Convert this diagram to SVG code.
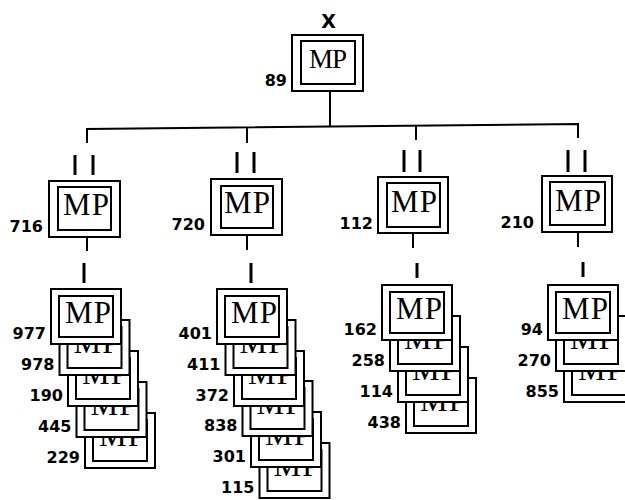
<svg xmlns="http://www.w3.org/2000/svg" width="625" height="500" viewBox="0 0 625 500">
<style>
.o{fill:#fff;stroke:#000;stroke-width:2}
.i{fill:none;stroke:#000;stroke-width:2}
.mp{font-family:"Liberation Serif",serif;font-size:31px;text-anchor:middle;fill:#000}
.lb{font-family:"DejaVu Sans",sans-serif;font-weight:bold;font-size:16px;text-anchor:end;fill:#000}
.c{stroke:#000;stroke-width:2;fill:none}
.t{stroke:#000;stroke-width:3;fill:none}
</style>
<rect width="625" height="500" fill="#fff"/>
<g id="connectors">
<line class="c" x1="330" y1="91" x2="330" y2="127"/>
<polyline class="c" points="87,143 87,129 578,124 578,138"/>
<line class="c" x1="247" y1="127" x2="247" y2="143"/>
<line class="c" x1="416" y1="126" x2="416" y2="140"/>
<line class="t" x1="75" y1="155" x2="75" y2="175"/>
<line class="t" x1="93" y1="155" x2="93" y2="175"/>
<line class="t" x1="237" y1="152" x2="237" y2="173"/>
<line class="t" x1="254" y1="152" x2="254" y2="173"/>
<line class="t" x1="404" y1="150" x2="404" y2="172"/>
<line class="t" x1="420" y1="150" x2="420" y2="172"/>
<line class="t" x1="568" y1="150" x2="568" y2="172"/>
<line class="t" x1="585" y1="150" x2="585" y2="172"/>
<line class="c" x1="87" y1="237" x2="87" y2="251"/>
<line class="t" x1="84" y1="263" x2="84" y2="283"/>
<line class="c" x1="247" y1="235" x2="247" y2="250"/>
<line class="t" x1="251" y1="263" x2="251" y2="283"/>
<line class="c" x1="413" y1="233" x2="413" y2="248"/>
<line class="t" x1="417" y1="263" x2="417" y2="278"/>
<line class="c" x1="578" y1="232" x2="578" y2="247"/>
<line class="t" x1="583" y1="262" x2="583" y2="277"/>
</g>
<g id="top">
<text x="328.5" y="28" style="font-family:'DejaVu Sans',sans-serif;font-weight:bold;font-size:19px;text-anchor:middle">X</text>
<rect class="o" x="292" y="35" width="71" height="56"/>
<rect class="i" x="301" y="41" width="54" height="43"/>
<text class="mp" x="328" y="68" style="font-size:27px" textLength="38">MP</text>
<text class="lb" x="287" y="86">89</text>
</g>
<g id="n716">
<rect class="o" x="49" y="181" width="71" height="56"/>
<rect class="i" x="58" y="187" width="53" height="43"/>
<text class="mp" x="86" y="215" textLength="46">MP</text>
<text class="lb" x="43" y="232">716</text>
</g>
<g id="n720">
<rect class="o" x="211" y="179" width="71" height="56"/>
<rect class="i" x="221" y="186" width="52" height="42"/>
<text class="mp" x="247" y="213" textLength="46">MP</text>
<text class="lb" x="205" y="230">720</text>
</g>
<g id="n112">
<rect class="o" x="378" y="177" width="70" height="56"/>
<rect class="i" x="387" y="183" width="53" height="44"/>
<text class="mp" x="414" y="212" textLength="46">MP</text>
<text class="lb" x="373" y="229">112</text>
</g>
<g id="n210">
<rect class="o" x="542" y="176" width="70" height="56"/>
<rect class="i" x="550" y="182" width="55" height="43"/>
<text class="mp" x="578" y="211" textLength="46">MP</text>
<text class="lb" x="534" y="228">210</text>
</g>
<g id="stack1">
<g id="n229" transform="translate(85,413)"><rect class="o" width="70" height="55"/><rect class="i" x="8" y="7" width="54" height="41"/><text class="mp" x="37" y="33" textLength="46">MP</text><text class="lb" x="-5" y="50">229</text></g>
<g id="n445" transform="translate(76.5,382)"><rect class="o" width="70" height="55"/><rect class="i" x="8" y="7" width="54" height="41"/><text class="mp" x="37" y="33" textLength="46">MP</text><text class="lb" x="-5" y="50">445</text></g>
<g id="n190" transform="translate(68,351)"><rect class="o" width="70" height="55"/><rect class="i" x="8" y="7" width="54" height="41"/><text class="mp" x="37" y="33" textLength="46">MP</text><text class="lb" x="-5" y="50">190</text></g>
<g id="n978" transform="translate(59.5,320)"><rect class="o" width="70" height="55"/><rect class="i" x="8" y="7" width="54" height="41"/><text class="mp" x="37" y="33" textLength="46">MP</text><text class="lb" x="-5" y="50">978</text></g>
<g id="n977" transform="translate(51,289)"><rect class="o" width="70" height="55"/><rect class="i" x="8" y="7" width="54" height="41"/><text class="mp" x="37" y="34" textLength="46">MP</text><text class="lb" x="-5" y="50">977</text></g>
</g>
<g id="stack2">
<g id="n115" transform="translate(259.5,443)"><rect class="o" width="70" height="55"/><rect class="i" x="8" y="7" width="54" height="41"/><text class="mp" x="37" y="33" textLength="46">MP</text><text class="lb" x="-5" y="50">115</text></g>
<g id="n301" transform="translate(251,412)"><rect class="o" width="70" height="55"/><rect class="i" x="8" y="7" width="54" height="41"/><text class="mp" x="37" y="33" textLength="46">MP</text><text class="lb" x="-5" y="50">301</text></g>
<g id="n838" transform="translate(242.5,381)"><rect class="o" width="70" height="55"/><rect class="i" x="8" y="7" width="54" height="41"/><text class="mp" x="37" y="33" textLength="46">MP</text><text class="lb" x="-5" y="50">838</text></g>
<g id="n372" transform="translate(234,351)"><rect class="o" width="70" height="55"/><rect class="i" x="8" y="7" width="54" height="41"/><text class="mp" x="37" y="33" textLength="46">MP</text><text class="lb" x="-5" y="50">372</text></g>
<g id="n411" transform="translate(225.5,320)"><rect class="o" width="70" height="55"/><rect class="i" x="8" y="7" width="54" height="41"/><text class="mp" x="37" y="33" textLength="46">MP</text><text class="lb" x="-5" y="50">411</text></g>
<g id="n401" transform="translate(217,289)"><rect class="o" width="70" height="55"/><rect class="i" x="8" y="7" width="54" height="41"/><text class="mp" x="37" y="34" textLength="46">MP</text><text class="lb" x="-5" y="50">401</text></g>
</g>
<g id="stack3">
<g id="n438" transform="translate(406,378)"><rect class="o" width="70" height="55"/><rect class="i" x="8" y="7" width="54" height="41"/><text class="mp" x="37" y="33" textLength="46">MP</text><text class="lb" x="-5" y="50">438</text></g>
<g id="n114" transform="translate(398,347)"><rect class="o" width="70" height="55"/><rect class="i" x="8" y="7" width="54" height="41"/><text class="mp" x="37" y="33" textLength="46">MP</text><text class="lb" x="-5" y="50">114</text></g>
<g id="n258" transform="translate(390,316)"><rect class="o" width="70" height="55"/><rect class="i" x="8" y="7" width="54" height="41"/><text class="mp" x="37" y="33" textLength="46">MP</text><text class="lb" x="-5" y="50">258</text></g>
<g id="n162" transform="translate(382,285)"><rect class="o" width="70" height="55"/><rect class="i" x="8" y="7" width="54" height="41"/><text class="mp" x="37" y="34" textLength="46">MP</text><text class="lb" x="-5" y="50">162</text></g>
</g>
<g id="stack4">
<g id="n855" transform="translate(564,347)"><rect class="o" width="70" height="55"/><rect class="i" x="8" y="7" width="54" height="41"/><text class="mp" x="37" y="33" textLength="46">MP</text><text class="lb" x="-5" y="50">855</text></g>
<g id="n270" transform="translate(556,316)"><rect class="o" width="70" height="55"/><rect class="i" x="8" y="7" width="54" height="41"/><text class="mp" x="37" y="33" textLength="46">MP</text><text class="lb" x="-5" y="50">270</text></g>
<g id="n94" transform="translate(548,285)"><rect class="o" width="70" height="55"/><rect class="i" x="8" y="7" width="54" height="41"/><text class="mp" x="37" y="34" textLength="46">MP</text><text class="lb" x="-5" y="50">94</text></g>
</g>
</svg>
